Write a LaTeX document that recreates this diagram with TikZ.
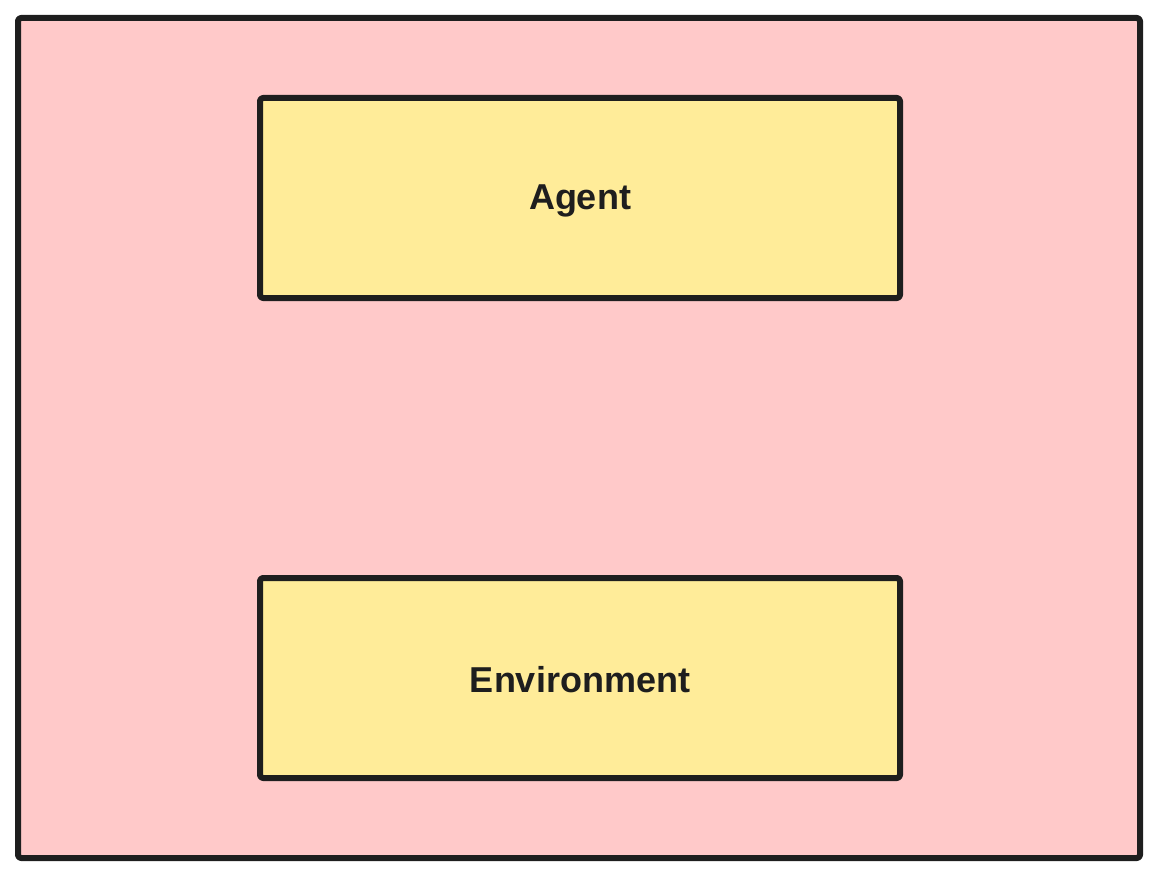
\documentclass[tikz,border=0pt]{standalone}
\usepackage{fontspec}
\setmainfont{Liberation Sans}
\definecolor{strokec}{HTML}{1E1E1E}
\definecolor{pinkc}{HTML}{FFC9C9}
\definecolor{yellowc}{HTML}{FFEC99}
\tikzset{
  frame/.style={draw=strokec, line width=6pt, fill=pinkc, rounded corners=3pt, line join=round},
  blockbox/.style={draw=strokec, line width=6pt, fill=yellowc, rounded corners=3pt, line join=round},
  lbl/.style={text=strokec, font=\fontsize{36}{43}\selectfont\bfseries}
}
\begin{document}
\begin{tikzpicture}[x=1pt,y=-1pt]
\useasboundingbox (0,0) rectangle (1160,880);
\draw[frame] (18,18) rectangle (1140,858);
\draw[blockbox] (260,98) rectangle (900,298);
\draw[blockbox] (260,578) rectangle (900,778);
\node[lbl] (agent) at (580,201) {Agent};
\node[lbl] (env) at (580,680) {Environment};
\end{tikzpicture}
\end{document}
